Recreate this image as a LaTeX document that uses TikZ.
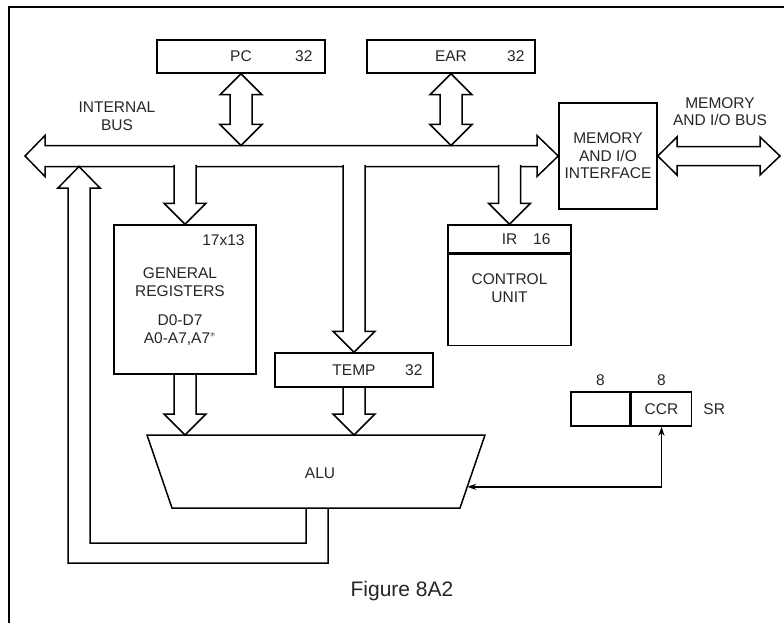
\documentclass[tikz,border=0pt]{standalone}
\usepackage{fontspec}
\setmainfont{Liberation Sans}
\usetikzlibrary{arrows.meta, calc, positioning}

\newcommand{\lblfont}{\fontsize{15.5}{17.5}\selectfont}

\tikzset{
  % register / unit boxes
  regbox/.style={
    rectangle, draw, line width=1.5pt, inner sep=0pt,
    font=\lblfont, text=black!85, align=center,
  },
  % plain labels
  lbl/.style={font=\lblfont, text=black!85, inner sep=0pt, align=center},
  % wide hollow bus arrows
  hollow/.style={draw, line width=1.5pt, line join=miter},
  hollowfill/.style={hollow, fill=white},
  % thin arrow between CCR and ALU
  thinarrow/.style={{Stealth[length=9pt,width=6pt]}-{Stealth[length=9pt,width=6pt]}, line width=1.4pt},
}

% hollow arrow from the level of #2 down to the tip #3
\newcommand{\busdown}[3][hollowfill]{%
  \draw[#1] let \p1=(#2), \p2=(#3) in
    (\x2-11pt,\y1) -- (\x2-11pt,\y2+21pt) -- (\x2-21pt,\y2+21pt) -- (\x2,\y2)
    -- (\x2+21pt,\y2+21pt) -- (\x2+11pt,\y2+21pt) -- (\x2+11pt,\y1);}

% hollow double arrow between #1 (top) and #2 (bottom)
\newcommand{\busboth}[2]{%
  \draw[hollowfill] let \p1=(#1), \p2=(#2) in
    (\x1,\y1) -- (\x1+21pt,\y1-21pt) -- (\x1+11pt,\y1-21pt) -- (\x1+11pt,\y2+21pt)
    -- (\x1+21pt,\y2+21pt) -- (\x1,\y2) -- (\x1-21pt,\y2+21pt) -- (\x1-11pt,\y2+21pt)
    -- (\x1-11pt,\y1-21pt) -- (\x1-21pt,\y1-21pt) -- cycle;}

\begin{document}
\begin{tikzpicture}[x=1pt, y=-1pt]
  \useasboundingbox (0,0) rectangle (784,623);

  % frame
  \draw[line width=2pt] (9,623) -- (9,7) -- (784,7);

  % Top registers
  \node[regbox, minimum width=168pt, minimum height=33pt] (pc-reg) at (241,56.5) {PC};
  \node[lbl] at ([xshift=-22pt]pc-reg.east) {32};
  \node[regbox, minimum width=168pt, minimum height=33pt] (ear-reg) at (451,56.5) {EAR};
  \node[lbl] at ([xshift=-20pt]ear-reg.east) {32};

  % Memory interface
  \node[regbox, minimum width=98pt, minimum height=106pt] (mem-if) at (608,156) {MEMORY\\AND I/O\\INTERFACE};
  \node[lbl] (mem-bus-title) at (720,111.5) {MEMORY\\AND I/O BUS};

  % Internal bus
  \node[lbl] (bus-title) at (117,116) {INTERNAL\\BUS};
  \coordinate (bus-l) at (25,156);
  \coordinate (bus-t) at (45,145.5);
  \coordinate (bus-b) at (45,166.5);
  \coordinate (bus-in) at (45,164.8);

  % General registers
  \node[regbox, minimum width=142pt, minimum height=149pt] (gen-reg) at (185,299.5) {};
  \node[lbl, anchor=north east] at ([xshift=-12pt,yshift=-10pt]gen-reg.north east) {17x13};
  \node[lbl] at (180,282) {GENERAL\\REGISTERS};
  \node[lbl] at (180,330) {D0-D7\\A0-A7,A7$^{\ast}$};

  % TEMP
  \node[regbox, minimum width=158pt, minimum height=34pt] (temp) at (354,370) {TEMP};
  \node[lbl] at ([xshift=-20pt]temp.east) {32};

  % IR and control unit
  \node[regbox, minimum width=123pt, minimum height=28pt] (ir) at (509.5,239) {IR};
  \node[lbl] at ([xshift=-30pt]ir.east) {16};
  \node[regbox, minimum width=123pt, minimum height=91pt, anchor=north] (ctrl) at (ir.south) {CONTROL\\UNIT\\[6pt]};

  % Status register
  \node[regbox, minimum width=59pt, minimum height=34pt] (sr-hi) at (600.5,409) {};
  \node[regbox, minimum width=60pt, minimum height=34pt, anchor=west] (ccr) at (sr-hi.east) {CCR};
  \node[lbl] at ([yshift=11pt]sr-hi.north) {8};
  \node[lbl] at ([yshift=11pt]ccr.north) {8};
  \node[lbl, anchor=west] (sr-title) at ([xshift=11pt]ccr.east) {SR};

  % ALU
  \coordinate (alu-tl) at (147,435);
  \coordinate (alu-tr) at (485,435);
  \coordinate (alu-br) at (460,508);
  \coordinate (alu-bl) at (172,508);
  \draw[hollow] (alu-tl) -- (alu-tr) -- (alu-br) -- (alu-bl) -- cycle;
  \node[lbl] (alu) at (320,473) {ALU};
  \coordinate (alu-r) at ($(alu-tr)!0.71!(alu-br)$);

  % PC / EAR to bus
  \busboth{pc-reg.south}{pc-reg.south |- bus-t}
  \busboth{ear-reg.south}{ear-reg.south |- bus-t}

  % Internal bus outline
  \draw[hollow] (bus-l) -- (45,135.5) -- (bus-t) -- (537,145.5) -- (537,135.5)
    -- (mem-if.west) -- (537,176.5) -- (537,166.5) -- (bus-b) -- (45,176.5) -- cycle;

  % bus branches
  \busdown{bus-in}{gen-reg.north}
  \busdown{bus-in}{temp.north}
  \busdown{bus-in}{ir.north}

  % into the ALU
  \busdown[hollow]{gen-reg.south}{gen-reg.south |- alu-tl}
  \busdown[hollow]{temp.south}{temp.south |- alu-tl}

  % ALU result back to the bus
  \draw[hollow] (306,508) -- (306,543) -- (90,543) -- (90,188) -- (100,188)
    -- (79,166.5) -- (58,188) -- (68,188) -- (68,563) -- (328,563) -- (328,508);

  % Memory and I/O bus
  \draw[hollow] (mem-if.east) -- (677,137) -- (677,146.5) -- (760,146.5) -- (760,137)
    -- (780,156) -- (760,175) -- (760,165.5) -- (677,165.5) -- (677,175) -- cycle;

  % CCR <-> ALU
  \draw[thinarrow] (ccr.south) |- (alu-r);

  % caption
  \node[font=\fontsize{21}{25}\selectfont, text=black!85] (caption) at (402,591) {Figure 8A2};
\end{tikzpicture}
\end{document}
